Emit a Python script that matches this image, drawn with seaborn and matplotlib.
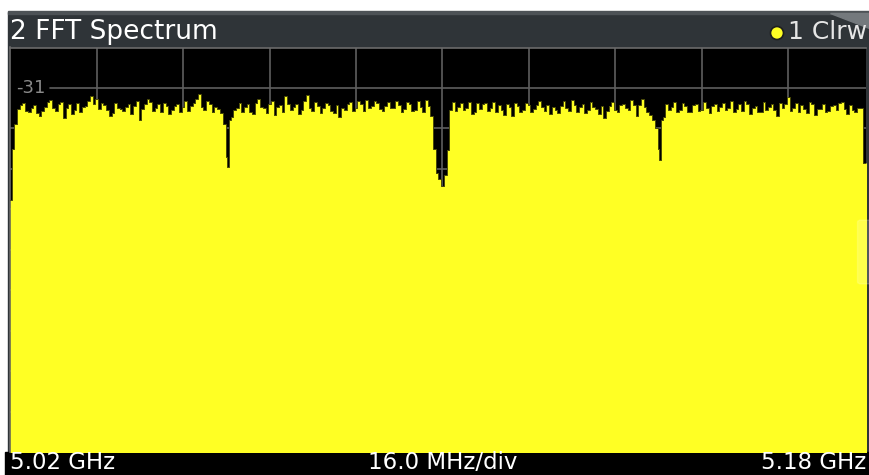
import numpy as np
import pandas as pd
import seaborn as sns
import matplotlib.pyplot as plt
from matplotlib.patches import Rectangle, Ellipse, FancyBboxPatch, Polygon

# trace, one value per 1 MHz starting at 5.020 GHz (dBm)
start_ghz = 5.020
step_ghz = 0.001
level_db = [
    -58.7, -40.0, -35.2, -36.7, -35.9, -37.2, -36.7, -34.5, -35.9, -35.0,
    -38.4, -35.0, -36.4, -36.9, -35.4, -33.0, -33.7, -34.7, -36.4, -37.2,
    -35.9, -36.7, -35.0, -35.4, -38.9, -35.0, -34.5, -35.9, -36.9, -35.4,
    -36.4, -35.0, -35.7, -36.7, -34.7, -32.5, -36.4, -35.0, -35.7, -37.2,
    -48.0, -38.2, -35.9, -36.9, -35.0, -37.4, -33.7, -35.9, -35.0, -37.7,
    -35.2, -33.0, -36.4, -35.0, -36.4, -32.7, -36.7, -35.4, -35.9, -35.2,
    -37.2, -38.2, -36.4, -34.5, -35.9, -35.0, -34.0, -35.4, -34.7, -36.7,
    -34.5, -35.9, -35.2, -36.2, -35.0, -36.4, -35.7, -34.0, -38.0, -52.0,
    -55.3, -46.3, -34.5, -35.7, -36.4, -34.5, -36.9, -36.2, -34.7, -35.9,
    -36.9, -36.4, -35.0, -37.9, -35.4, -36.4, -35.2, -36.2, -34.2, -36.7,
    -37.4, -36.4, -35.4, -35.9, -34.0, -36.9, -35.0, -36.4, -35.7, -37.4,
    -38.4, -35.4, -36.4, -35.2, -35.9, -34.0, -37.9, -33.7, -36.9, -38.9,
    -46.0, -38.2, -36.4, -34.5, -36.4, -35.4, -36.9, -35.0, -36.4, -35.9,
    -35.4, -36.7, -34.7, -35.9, -36.9, -35.0, -34.2, -37.4, -35.4, -36.9,
    -36.4, -35.0, -37.9, -35.9, -33.2, -35.9, -36.9, -36.2, -34.5, -37.7,
    -36.2, -36.9, -35.4, -36.4, -34.5, -37.4, -36.4, -35.9, -49.5, -49.5,
    -49.5,
]

# in-between samples, 5.0205 GHz onward every 1 MHz (nan = inside a notch)
half_start_ghz = 5.0205
half_db = [
    -46.0, -36.2, -34.6, -36.9, -35.3, -38.0, -35.6, -33.9, -36.8, -34.4,
    -36.0, -37.5, -34.8, -35.6, -34.1, -34.9, -36.1, -35.2, -37.8, -34.6,
    -36.3, -35.6, -37.5, -34.3, -36.2, -33.8, -36.8, -35.0, -34.6, -37.3,
    -35.5, -36.9, -34.2, -35.4, -33.6, -35.8, -34.1, -37.0, -36.2, np.nan,
    np.nan, -36.5, -34.6, -35.8, -36.9, -34.8, -35.7, -37.2, -34.3, -35.8,
    -36.9, -34.9, -35.6, -37.4, -34.1, -35.9, -34.5, -37.1, -34.7, -36.6,
    -35.3, -36.0, -35.0, -36.7, -34.3, -36.8, -35.9, -34.2, -36.3, -35.4,
    -36.0, -34.2, -37.0, -34.5, -36.8, -34.3, -36.9, -35.5, np.nan, np.nan,
    np.nan, np.nan, -36.6, -34.8, -35.9, -37.3, -34.6, -35.0, -36.6, -34.5,
    -35.3, -37.6, -35.8, -34.6, -36.9, -34.8, -37.0, -35.1, -35.8, -35.2,
    -35.6, -37.1, -34.3, -36.6, -35.2, -35.8, -37.2, -34.4, -36.1, -35.5,
    -36.8, -34.5, -36.9, -35.0, -36.4, -35.3, -35.1, -35.6, -37.6, np.nan,
    np.nan, -35.0, -35.6, -36.9, -34.8, -37.0, -35.3, -36.6, -34.5, -37.2,
    -34.9, -35.6, -36.5, -34.3, -36.1, -36.8, -35.0, -35.9, -37.0, -34.4,
    -35.7, -36.4, -34.6, -34.9, -36.6, -34.8, -35.3, -37.1, -35.0, -36.2,
    -34.9, -36.8, -35.3, -34.6, -36.2, -35.1, -37.0, -36.0, -49.5, -49.5,
]

# extra points inside the three notches
notch_freq = [5.0597, 5.0603, 5.0606,
              5.0985, 5.0995, 5.1005, 5.1015,
              5.1397, 5.1403, 5.1406]
notch_db = [-40.0, -50.5, -39.0,
            -46.0, -53.5, -52.5, -36.5,
            -41.0, -48.8, -39.0]

ref_db = -31
y_bottom = -121
y_top = -21
x_left = 5.020
x_right = 5.02 + 855.75 / 5403.0

freq_grid = start_ghz + step_ghz * np.arange(len(level_db))
half_grid = half_start_ghz + step_ghz * np.arange(len(half_db))
df = pd.DataFrame({'freq': np.concatenate([freq_grid, half_grid, notch_freq]),
                   'level': np.concatenate([level_db, half_db, notch_db])})
df = df.dropna().sort_values('freq').reset_index(drop=True)

sns.set_theme(style='dark')
plt.rcParams['font.family'] = ['DejaVu Sans']

W, H = 869, 475
fig = plt.figure(figsize=(W / 100, H / 100), dpi=100, facecolor='white')

def px_rect(x0, y0, x1, y1, z, **kw):
    fig.patches.append(Rectangle((x0 / W, 1 - y1 / H), (x1 - x0) / W, (y1 - y0) / H,
                                 transform=fig.transFigure, zorder=z, **kw))

# frame, header and footer
px_rect(8, 12, 869, 475, -3, color='#2f3438')
px_rect(8, 11, 869, 14, -2, color='#4d5256')
fig.patches.append(Polygon([(830 / W, 1 - 13 / H), (869 / W, 1 - 13 / H), (869 / W, 1 - 28 / H)],
                           closed=True, transform=fig.transFigure, color='#74797d', zorder=-2))
px_rect(5, 452, 869, 475, -2, color='black')

ax = fig.add_axes([10.25 / W, 1 - 452.5 / H, 855.75 / W, 405 / H])
ax.set_zorder(2)
ax.set_facecolor('black')

ax.fill_between(df['freq'], df['level'], y_bottom, step='mid', color='#ffff24',
                linewidth=0, zorder=3)
sns.lineplot(data=df, x='freq', y='level', estimator=None, drawstyle='steps-mid',
             color='#4a4a08', linewidth=0.7, ax=ax, zorder=4)

# grid: 10 divisions each way
for k in range(1, 10):
    ax.axvline(x_left + 0.016 * k, color='#5e5e5e', linewidth=1.2, zorder=1)
for k in range(0, 10):
    lvl = y_top - 10 * k
    xmin = 40 / 855.75 if lvl == ref_db else 0
    ax.axhline(lvl, xmin=xmin, color='#5e5e5e', linewidth=1.2, zorder=1)

ax.text(6 / 855.75, ref_db, '-31', transform=ax.get_yaxis_transform(),
        color='#8a8a8a', fontsize=13, va='center', ha='left', zorder=2)

ax.set_xlim(x_left, x_right)
ax.set_ylim(y_bottom, y_top)
ax.set_xticks([])
ax.set_yticks([])
ax.set_xlabel('')
ax.set_ylabel('')
for side, sp in ax.spines.items():
    sp.set_visible(side in ('left', 'top'))
    sp.set_color('#6a6a6a')
    sp.set_linewidth(1.2)

# side tab overlay on the right
fig.patches.append(FancyBboxPatch((861 / W, 1 - 282 / H), 14 / W, 60 / H,
                                  boxstyle='round,pad=0.004', transform=fig.transFigure,
                                  facecolor='white', edgecolor='#ffffe0', alpha=0.18, zorder=5))

fig.text(10 / W, 1 - 32 / H, '2 FFT Spectrum', color='white', fontsize=19,
         va='center', ha='left')
fig.patches.append(Ellipse((777 / W, 1 - 33 / H), 13 / W, 13 / H, transform=fig.transFigure,
                           facecolor='#ffff24', edgecolor='#1e1e1e', linewidth=1.2, zorder=3))
fig.text(788 / W, 1 - 32 / H, '1 Clrw', color='#e6e6e6', fontsize=18,
         va='center', ha='left')

for x_px, label, align in [(10, '5.02 GHz', 'left'), (443, '16.0 MHz/div', 'center'),
                           (866, '5.18 GHz', 'right')]:
    fig.text(x_px / W, 1 - 469 / H, label, color='white', fontsize=16.5,
             va='baseline', ha=align)

fig.savefig('out.png', dpi=100, facecolor='white')
